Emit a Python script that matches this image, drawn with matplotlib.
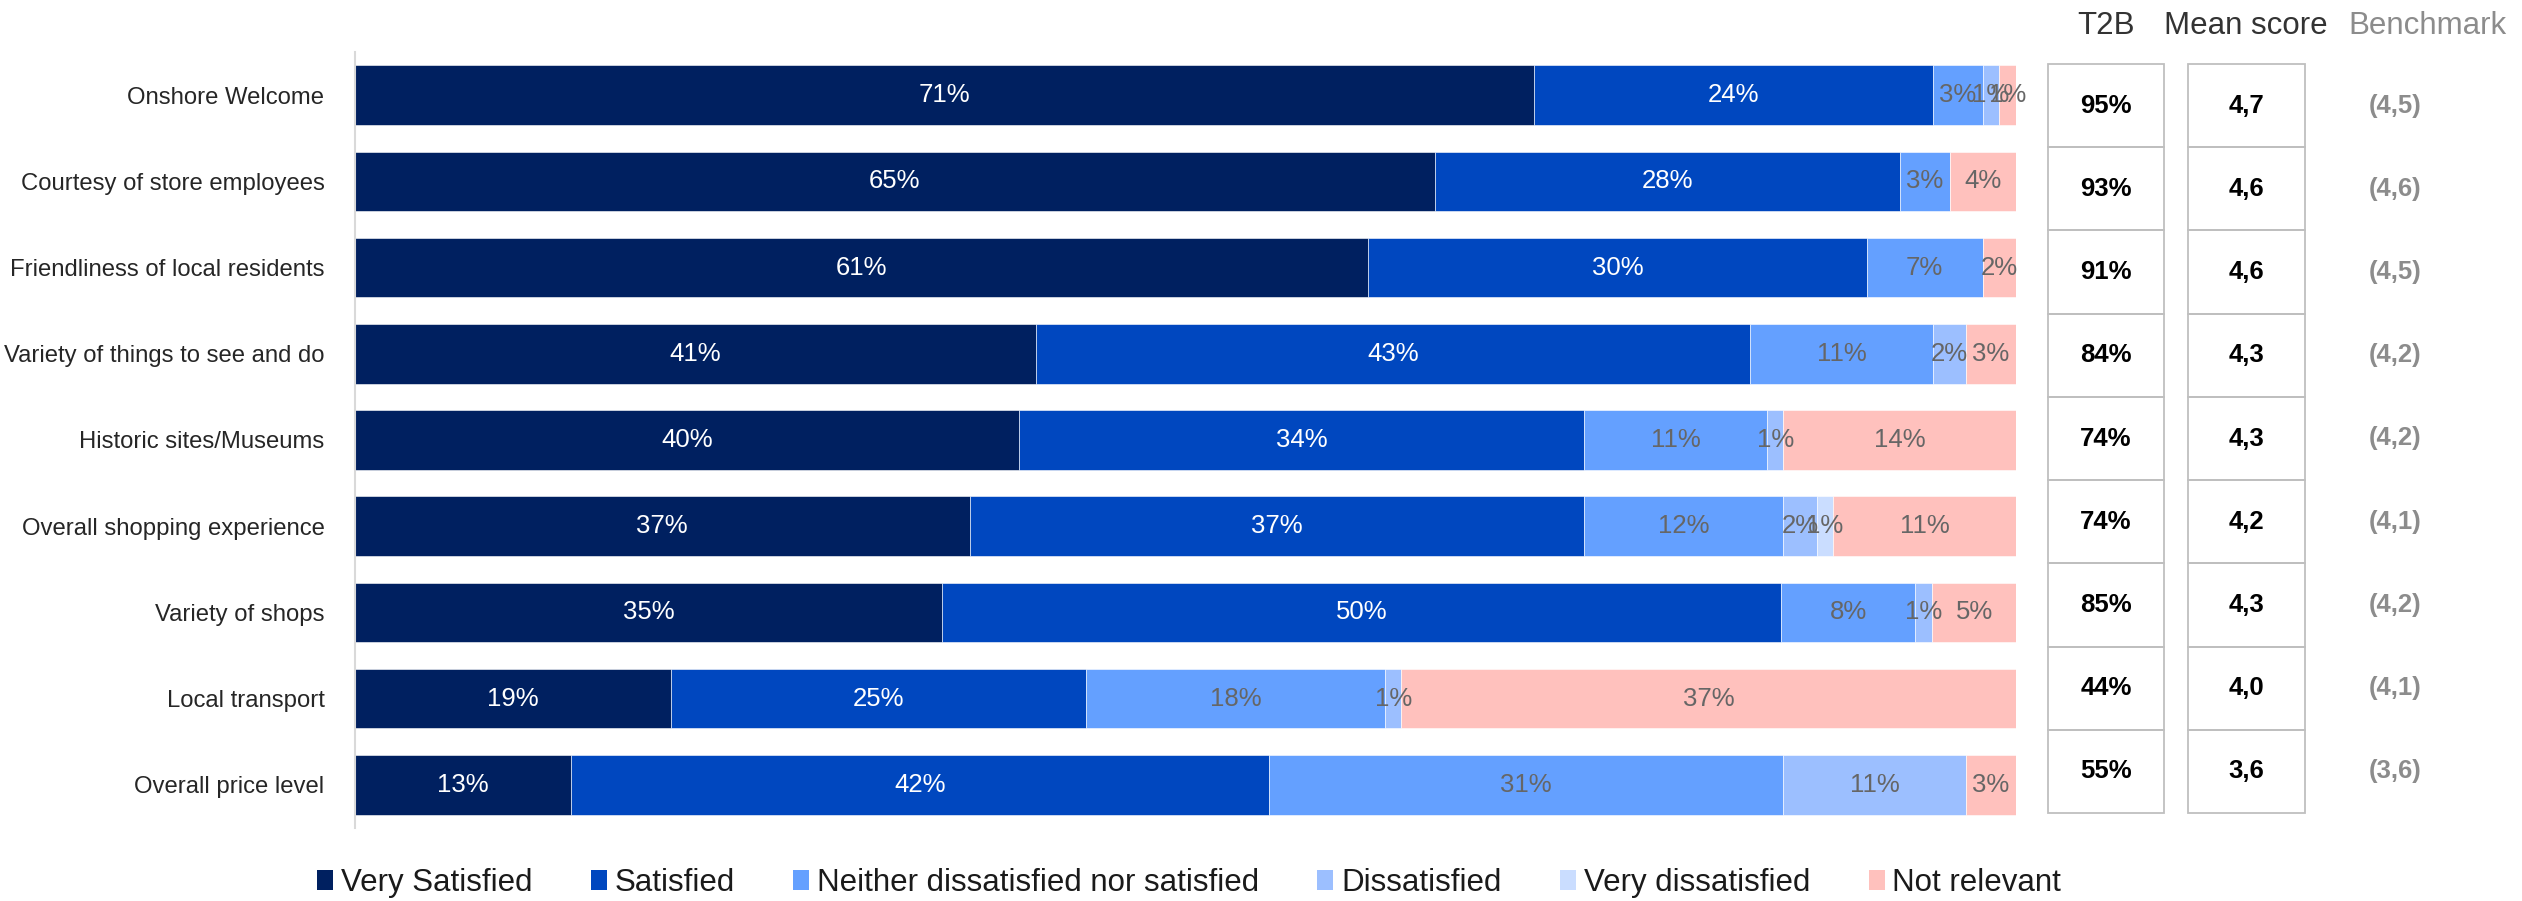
import matplotlib
matplotlib.use("Agg")
import matplotlib.pyplot as plt
from matplotlib.patches import Rectangle, Patch

plt.rcParams['font.family'] = ['Liberation Sans', 'DejaVu Sans']

categories = ["Onshore Welcome", "Courtesy of store employees", "Friendliness of local residents",
              "Variety of things to see and do", "Historic sites/Museums", "Overall shopping experience",
              "Variety of shops", "Local transport", "Overall price level"]
series_names = ["Very Satisfied", "Satisfied", "Neither dissatisfied nor satisfied",
                "Dissatisfied", "Very dissatisfied", "Not relevant"]
very_satisfied = [71, 65, 61, 41, 40, 37, 35, 19, 13]
satisfied = [24, 28, 30, 43, 34, 37, 50, 25, 42]
neither = [3, 3, 7, 11, 11, 12, 8, 18, 31]
dissatisfied = [1, 0, 0, 2, 1, 2, 1, 1, 11]
very_dissatisfied = [0, 0, 0, 0, 0, 1, 0, 0, 0]
not_relevant = [1, 4, 2, 3, 14, 11, 5, 37, 3]
t2b = ["95%", "93%", "91%", "84%", "74%", "74%", "85%", "44%", "55%"]
mean_score = ["4,7", "4,6", "4,6", "4,3", "4,3", "4,2", "4,3", "4,0", "3,6"]
benchmark = ["(4,5)", "(4,6)", "(4,5)", "(4,2)", "(4,2)", "(4,1)", "(4,2)", "(4,1)", "(3,6)"]

colors = ["#002060", "#0047BF", "#64A0FF", "#9CBFFF", "#CADDFF", "#FFC1BD"]
label_colors = ["white", "white", "#666666", "#666666", "#666666", "#666666"]

W, H = 2522, 901
fig = plt.figure(figsize=(W / 100, H / 100), dpi=100)

ax = fig.add_axes([355 / W, 1 - 828 / H, (2016 - 355) / W, (828 - 52) / H])
series = [very_satisfied, satisfied, neither, dissatisfied, very_dissatisfied, not_relevant]
row_totals = [sum(s[i] for s in series) for i in range(len(categories))]
ypos = list(range(len(categories)))
lefts = [0.0] * len(categories)
for s, vals in enumerate(series):
    widths = [100.0 * v / t for v, t in zip(vals, row_totals)]
    ax.barh(ypos, widths, left=lefts, height=0.69, color=colors[s], edgecolor='white', linewidth=0.4)
    for i, v in enumerate(vals):
        if v > 0:
            ax.text(lefts[i] + widths[i] / 2, i, f"{v}%", ha='center', va='center',
                    fontsize=18.5, color=label_colors[s])
    lefts = [l + w for l, w in zip(lefts, widths)]

ax.set_xlim(0, 100)
ax.set_ylim(len(categories) - 0.5, -0.5)
ax.set_yticks(ypos)
ax.set_yticklabels(categories, fontsize=17.2, color='#262626')
ax.tick_params(axis='y', length=0, pad=22)
ax.set_xticks([])
for sp in ['top', 'right', 'bottom']:
    ax.spines[sp].set_visible(False)
ax.spines['left'].set_color('#D9D9D9')
ax.spines['left'].set_linewidth(1.5)

# Table overlay
ov = fig.add_axes([0, 0, 1, 1])
ov.set_xlim(0, W)
ov.set_ylim(H, 0)
ov.axis('off')
ov.patch.set_alpha(0)

top, bottom = 64, 813
n = len(categories)
cell_h = (bottom - top) / n
cols = [(2048, 2164, t2b), (2188, 2305, mean_score)]
for x0, x1, vals in cols:
    for i, v in enumerate(vals):
        y0 = top + i * cell_h
        ov.add_patch(Rectangle((x0, y0), x1 - x0, cell_h, facecolor='none',
                               edgecolor='#BFBFBF', linewidth=1.3))
        ov.text((x0 + x1) / 2, y0 + cell_h / 2, v, ha='center', va='center',
                fontsize=18.5, fontweight='bold', color='black')
for i, v in enumerate(benchmark):
    ov.text(2395, top + (i + 0.5) * cell_h, v, ha='center', va='center',
            fontsize=18.5, fontweight='bold', color='#8C8C8C')

ov.text(2106, 26, "T2B", ha='center', va='center', fontsize=22.5, color='#333333')
ov.text(2246, 26, "Mean score", ha='center', va='center', fontsize=22.5, color='#333333')
ov.text(2427, 26, "Benchmark", ha='center', va='center', fontsize=22.5, color='#8C8C8C')

handles = [Patch(facecolor=c, edgecolor='none') for c in colors]
fig.legend(handles, series_names, loc='center', bbox_to_anchor=(0.4715, 0.02), ncol=6,
           frameon=False, fontsize=22.5, handlelength=0.51, handleheight=0.64,
           handletextpad=0.25, columnspacing=1.87, labelcolor='#1A1A1A',
           borderpad=0, borderaxespad=0)

fig.savefig("out.png", dpi=100)
